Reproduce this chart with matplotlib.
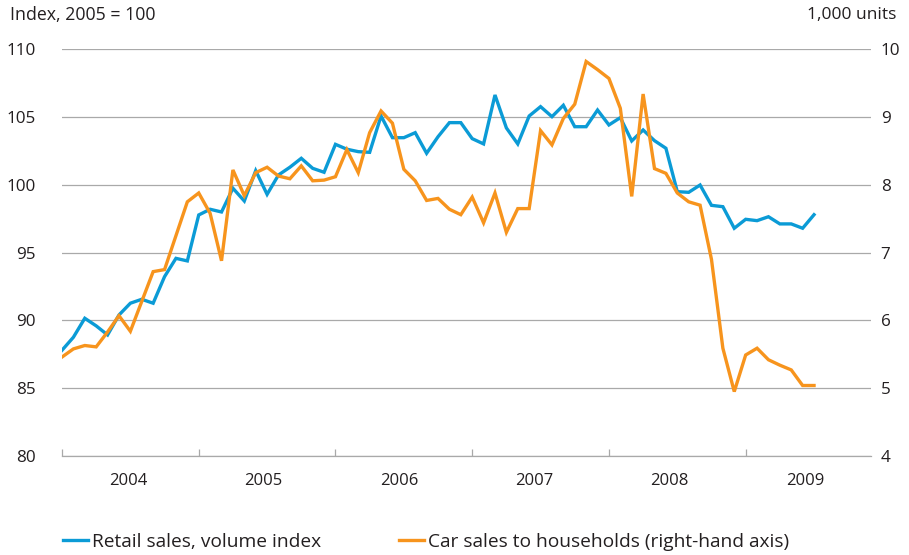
import matplotlib
matplotlib.use("Agg")
import matplotlib.pyplot as plt
from matplotlib.lines import Line2D
from matplotlib.ticker import FixedLocator, NullFormatter

# ---- data (monthly, Jan 2004 - Jul 2009) ----
years = ["2004", "2005", "2006", "2007", "2008", "2009"]
retail_sales = [
    87.8, 88.76, 90.16, 89.6, 88.93, 90.4, 91.27, 91.56, 91.27, 93.23, 94.58, 94.39,
    97.78, 98.2, 98.0, 99.75, 98.81, 101.05, 99.3, 100.73, 101.3, 101.96, 101.22, 100.93,
    102.99, 102.63, 102.45, 102.4, 105.08, 103.48, 103.48, 103.85, 102.33, 103.55, 104.59, 104.59,
    103.41, 103.02, 106.63, 104.2, 103.02, 105.08, 105.77, 105.03, 105.87, 104.29, 104.29, 105.52,
    104.42, 104.96, 103.24, 104.05, 103.26, 102.7, 99.5, 99.45, 99.99, 98.49, 98.39, 96.8,
    97.46, 97.36, 97.65, 97.12, 97.12, 96.8, 97.8,
]
car_sales = [
    5.46, 5.58, 5.63, 5.61, 5.83, 6.07, 5.84, 6.28, 6.72, 6.75, 7.25, 7.75,
    7.88, 7.58, 6.88, 8.22, 7.84, 8.18, 8.26, 8.13, 8.09, 8.28, 8.06, 8.07,
    8.12, 8.52, 8.18, 8.77, 9.09, 8.91, 8.23, 8.06, 7.77, 7.80, 7.64, 7.56,
    7.82, 7.44, 7.88, 7.30, 7.65, 7.65, 8.80, 8.59, 8.98, 9.19, 9.82, 9.70,
    9.57, 9.13, 7.83, 9.34, 8.24, 8.17, 7.88, 7.75, 7.70, 6.90, 5.59, 4.95,
    5.49, 5.59, 5.42, 5.34, 5.27, 5.04, 5.04,
]
left_ticks = [80, 85, 90, 95, 100, 105, 110]
right_ticks = [4, 5, 6, 7, 8, 9, 10]
label_retail = "Retail sales, volume index"
label_car = "Car sales to households (right-hand axis)"

BLUE = "#0b9bd6"
ORANGE = "#f7941d"
GRID = "#a9a9a9"
TXT = "#231f20"

plt.rcParams["font.family"] = ["Open Sans", "DejaVu Sans"]
plt.rcParams["font.size"] = 12

fig = plt.figure(figsize=(9.09, 5.55), dpi=100)
ax = fig.add_axes([62 / 909, 1 - 456 / 555, (871 - 62) / 909, (456 - 49.3) / 555])
ax2 = ax.twinx()

x = list(range(len(retail_sales)))
ax.set_xlim(0, 71)
ax.set_ylim(80, 110)
ax2.set_ylim(4, 10)

ax.set_yticks(left_ticks)
ax2.set_yticks(right_ticks)
ax.grid(axis="y", color=GRID, linewidth=0.9)
ax.set_axisbelow(True)

ax.plot(x, retail_sales, color=BLUE, linewidth=2.4, solid_joinstyle="miter", zorder=3)
ax2.plot(x, car_sales, color=ORANGE, linewidth=2.4, solid_joinstyle="miter", zorder=3)

for a in (ax, ax2):
    for s in ("top", "left", "right", "bottom"):
        a.spines[s].set_visible(False)
    a.set_facecolor("none")
ax.spines["bottom"].set_visible(True)
ax.spines["bottom"].set_color(GRID)
ax.spines["bottom"].set_linewidth(0.9)

# x ticks: year boundaries (major), year labels (minor)
ax.xaxis.set_major_locator(FixedLocator([0, 12, 24, 36, 48, 60]))
ax.xaxis.set_major_formatter(NullFormatter())
label_pos = [5.85, 17.7, 29.6, 41.45, 53.3, 65.2]
ax.xaxis.set_minor_locator(FixedLocator(label_pos))
ax.set_xticklabels(years, minor=True)
ax.tick_params(axis="x", which="major", direction="in", length=5, width=0.9, color=GRID)
ax.tick_params(axis="x", which="minor", length=0, pad=12, labelsize=12, labelcolor=TXT)

ax.tick_params(axis="y", length=0, pad=19, labelsize=12.3, labelcolor=TXT)
ax2.tick_params(axis="y", length=0, pad=7, labelsize=12.3, labelcolor=TXT)

fig.text(10 / 909, 1 - 15 / 555, "Index, 2005 = 100", ha="left", va="center",
         fontsize=12.8, color=TXT)
fig.text(896 / 909, 1 - 15 / 555, "1,000 units", ha="right", va="center",
         fontsize=12.5, color=TXT)

h1 = Line2D([], [], color=BLUE, linewidth=2.4)
h2 = Line2D([], [], color=ORANGE, linewidth=2.4)
leg_kw = dict(frameon=False, fontsize=13.8, handlelength=1.3, handletextpad=0.2,
              borderpad=0, borderaxespad=0, labelcolor=TXT)
fig.legend([h1], [label_retail], loc="center left",
           bbox_to_anchor=(63 / 909, 1 - 542 / 555), **leg_kw)
fig.legend([h2], [label_car], loc="center left",
           bbox_to_anchor=(399 / 909, 1 - 542 / 555), **leg_kw)

fig.savefig("out.png", dpi=100)
